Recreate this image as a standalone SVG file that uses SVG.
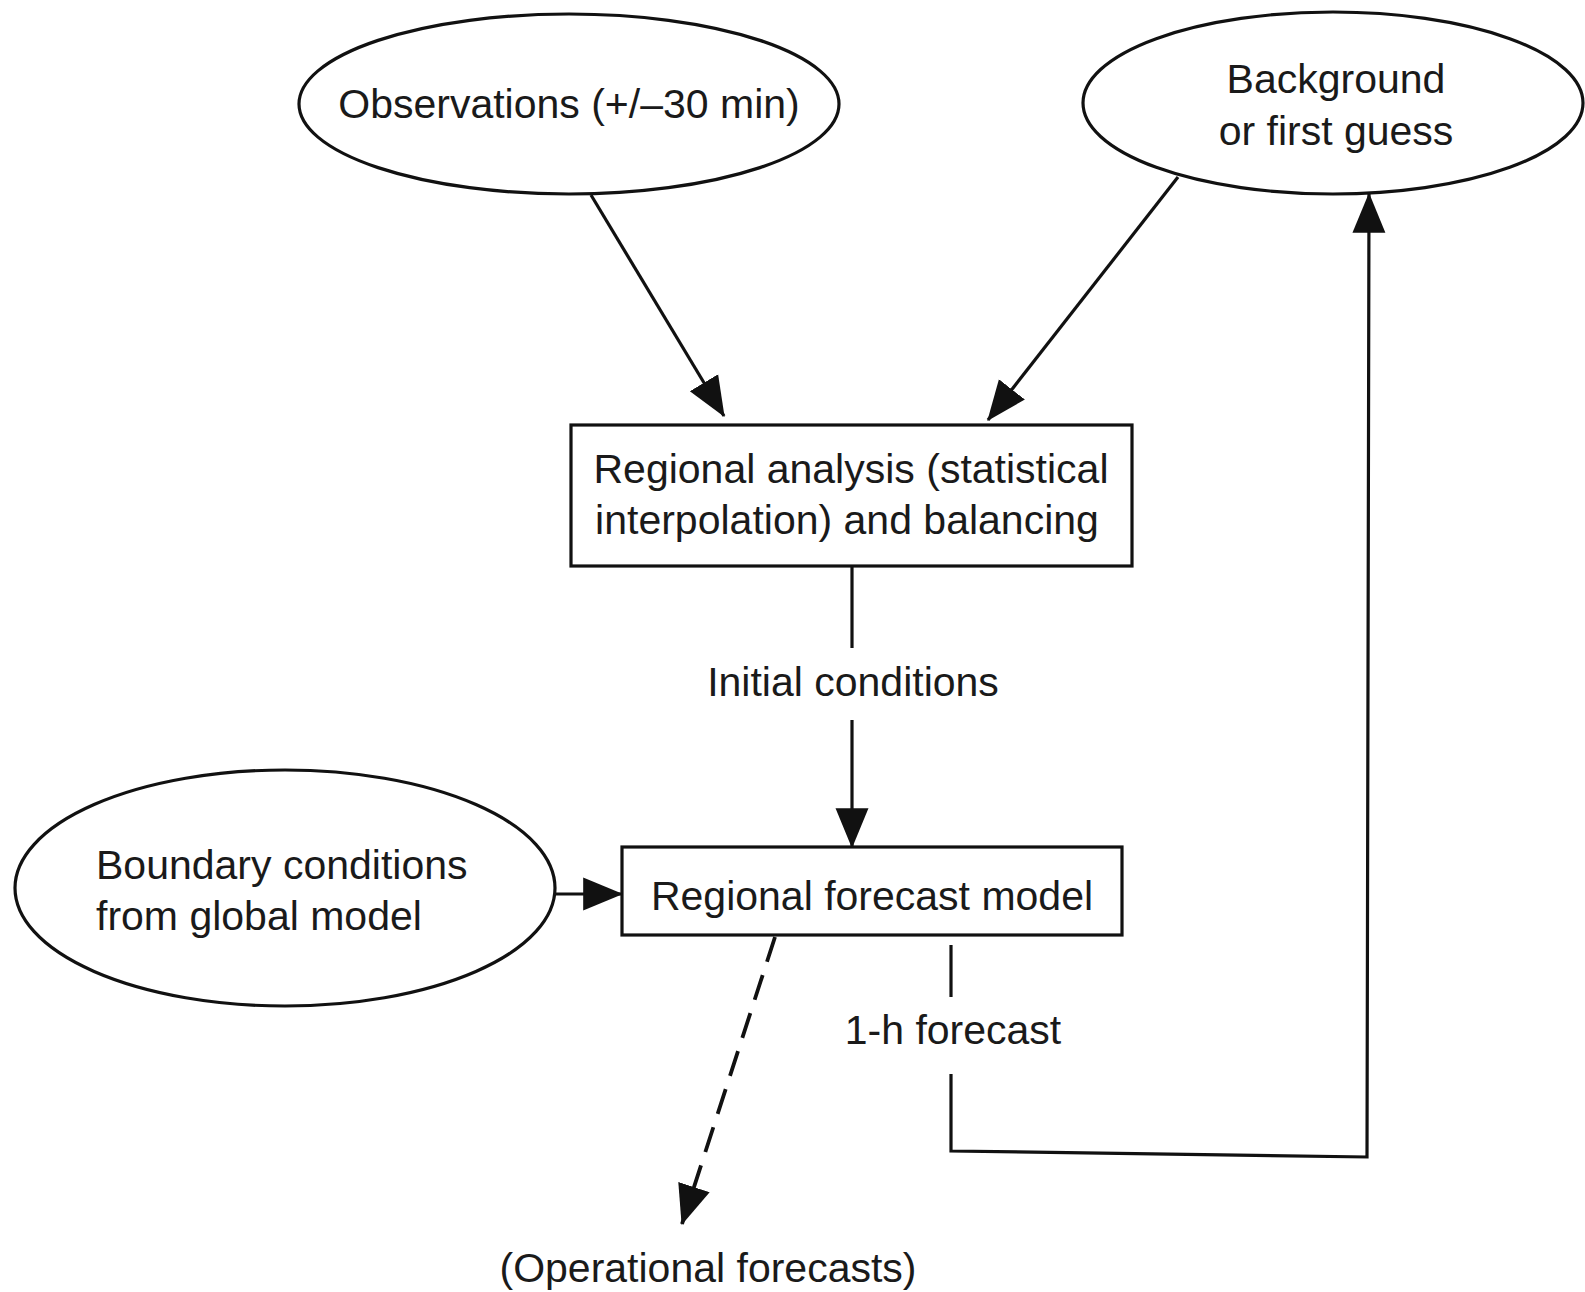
<svg xmlns="http://www.w3.org/2000/svg" width="1585" height="1292" viewBox="0 0 1585 1292">
<style>
.shape{fill:#fff;stroke:#111;stroke-width:3.2}
.t{font-family:"Liberation Sans",Arial,sans-serif;font-size:41px;fill:#1a1a1a}
.c{text-anchor:middle}
.ln{fill:none;stroke:#111;stroke-width:3.2}
.dash{stroke-width:3.8;stroke-dasharray:26 14}
</style>
<defs>
<marker id="ah" markerUnits="userSpaceOnUse" markerWidth="40" markerHeight="40" viewBox="0 0 34 28" refX="33" refY="14" orient="auto">
<path d="M0,0 L34,14 L0,28 Z" fill="#111"/>
</marker>
</defs>
<rect width="1585" height="1292" fill="#fff"/>
<g id="obs">
<ellipse class="shape" cx="569" cy="104" rx="270" ry="90"/>
<text class="t c" x="569" y="118">Observations (+/–30 min)</text>
</g>
<g id="background">
<ellipse class="shape" cx="1333" cy="103" rx="250" ry="91"/>
<text class="t c" x="1336" y="93">Background</text>
<text class="t c" x="1336" y="145">or first guess</text>
</g>
<g id="analysis">
<rect class="shape" x="571" y="425" width="561" height="141"/>
<text class="t c" x="851" y="483">Regional analysis (statistical</text>
<text class="t c" x="847" y="534">interpolation) and balancing</text>
</g>
<g id="forecastmodel">
<rect class="shape" x="622" y="847" width="500" height="88"/>
<text class="t c" x="872" y="910">Regional forecast model</text>
</g>
<g id="boundary">
<ellipse class="shape" cx="285" cy="888" rx="270" ry="118"/>
<text class="t" x="96" y="879">Boundary conditions</text>
<text class="t" x="96" y="930">from global model</text>
</g>
<g id="labels">
<text class="t c" x="853" y="696">Initial conditions</text>
<text class="t c" x="953" y="1044">1-h forecast</text>
<text class="t c" x="708" y="1282">(Operational forecasts)</text>
</g>
<g id="connectors">
<line class="ln" x1="591" y1="195" x2="724" y2="416" marker-end="url(#ah)"/>
<line class="ln" x1="1178" y1="177" x2="988" y2="420" marker-end="url(#ah)"/>
<line class="ln" x1="852" y1="567" x2="852" y2="648"/>
<line class="ln" x1="852" y1="720" x2="852" y2="847" marker-end="url(#ah)"/>
<line class="ln" x1="556" y1="894" x2="622" y2="894" marker-end="url(#ah)"/>
<line class="ln dash" x1="775" y1="937" x2="682" y2="1224" marker-end="url(#ah)"/>
<line class="ln" x1="951" y1="945" x2="951" y2="997"/>
<path class="ln" d="M951,1074 L951,1151 L1367,1157 L1369,194" marker-end="url(#ah)"/>
</g>
</svg>
